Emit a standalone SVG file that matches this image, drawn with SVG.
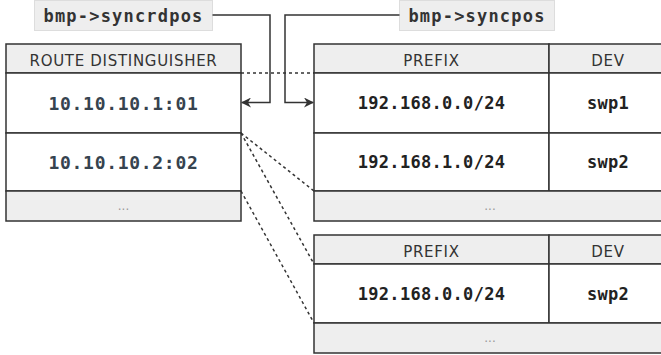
<svg xmlns="http://www.w3.org/2000/svg" width="661" height="355" viewBox="0 0 661 355">
<defs>
<style>
.cell{fill:#fff;stroke:#333;stroke-width:1.5}
.hdr{fill:#eee;stroke:#333;stroke-width:1.5}
.lbl{fill:#eee;stroke:#ddd;stroke-width:1}
.ht{font-family:"DejaVu Sans",sans-serif;font-size:15px;fill:#333;text-anchor:middle;letter-spacing:0.7px}
.dl{font-family:"DejaVu Sans Mono",monospace;font-weight:bold;font-size:18px;fill:#36434f;text-anchor:middle;letter-spacing:0.7px}
.dr{font-family:"DejaVu Sans Mono",monospace;font-weight:bold;font-size:17px;fill:#222;text-anchor:middle;letter-spacing:0.3px}
.el{font-family:"DejaVu Sans",sans-serif;font-size:12px;fill:#999;text-anchor:middle}
.lt{font-family:"DejaVu Sans Mono",monospace;font-weight:bold;font-size:17px;fill:#333;text-anchor:middle;letter-spacing:1.2px}
.conn{fill:none;stroke:#333;stroke-width:1.5}
.dash{fill:none;stroke:#333;stroke-width:1.5;stroke-dasharray:3 3}
</style>
<marker id="ah" viewBox="0 0 10 10" refX="9" refY="5" markerWidth="10" markerHeight="10" markerUnits="userSpaceOnUse" orient="auto">
<path d="M0,0 L10,5 L0,10 L3,5 Z" fill="#333"/>
</marker>
</defs>
<rect width="661" height="355" fill="#fff"/>

<g id="label-syncrdpos">
<rect class="lbl" x="34.5" y="0.5" width="178" height="30"/>
<text class="lt" x="123.5" y="22">bmp-&gt;syncrdpos</text>
</g>
<g id="label-syncpos">
<rect class="lbl" x="399.5" y="0.5" width="155" height="30"/>
<text class="lt" x="477" y="22">bmp-&gt;syncpos</text>
</g>

<g id="rd-table">
<rect class="hdr" x="6" y="44" width="235" height="29"/>
<text class="ht" x="123.5" y="66">ROUTE DISTINGUISHER</text>
<rect class="cell" x="6" y="73" width="235" height="60"/>
<text class="dl" x="123.5" y="110">10.10.10.1:01</text>
<rect class="cell" x="6" y="133" width="235" height="58"/>
<text class="dl" x="123.5" y="169">10.10.10.2:02</text>
<rect class="hdr" x="6" y="191" width="235" height="30"/>
<text class="el" x="123.5" y="210">...</text>
</g>

<g id="prefix-table-1">
<rect class="hdr" x="314" y="44" width="235" height="29"/>
<rect class="hdr" x="549" y="44" width="120" height="29"/>
<text class="ht" x="431.5" y="66">PREFIX</text>
<text class="ht" x="608" y="66">DEV</text>
<rect class="cell" x="314" y="73" width="235" height="60"/>
<rect class="cell" x="549" y="73" width="120" height="60"/>
<text class="dr" x="431.5" y="109">192.168.0.0/24</text>
<text class="dr" x="608" y="109">swp1</text>
<rect class="cell" x="314" y="133" width="235" height="58"/>
<rect class="cell" x="549" y="133" width="120" height="58"/>
<text class="dr" x="431.5" y="168">192.168.1.0/24</text>
<text class="dr" x="608" y="168">swp2</text>
<rect class="hdr" x="314" y="191" width="355" height="30"/>
<text class="el" x="490" y="210">...</text>
</g>

<g id="prefix-table-2">
<rect class="hdr" x="314" y="235" width="235" height="29"/>
<rect class="hdr" x="549" y="235" width="120" height="29"/>
<text class="ht" x="431.5" y="257">PREFIX</text>
<text class="ht" x="608" y="257">DEV</text>
<rect class="cell" x="314" y="264" width="235" height="59"/>
<rect class="cell" x="549" y="264" width="120" height="59"/>
<text class="dr" x="431.5" y="300">192.168.0.0/24</text>
<text class="dr" x="608" y="300">swp2</text>
<rect class="hdr" x="314" y="323" width="355" height="30"/>
<text class="el" x="490" y="342">...</text>
</g>

<g id="connectors">
<path class="conn" d="M212.5,15 H270 V102.5 H242" marker-end="url(#ah)"/>
<path class="conn" d="M399.5,15 H285 V102.5 H313" marker-end="url(#ah)"/>
<path class="dash" d="M241,73 H314"/>
<path class="dash" d="M241,133 L314,191"/>
<path class="dash" d="M241,133 L314,264"/>
<path class="dash" d="M241,191 L314,323"/>
</g>
</svg>
